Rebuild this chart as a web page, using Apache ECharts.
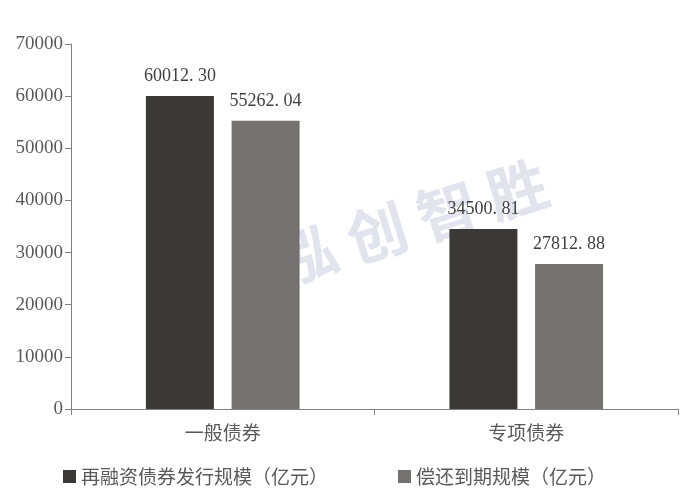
<!DOCTYPE html>
<html><head><meta charset="utf-8">
<script src="https://cdn.jsdelivr.net/npm/echarts@6/dist/echarts.min.js"></script>
<style>html,body{margin:0;padding:0;background:#fff}#c{width:680px;height:496px}</style>
</head><body><div id="c"></div>
<script>
const categories = ['一般债券', '专项债券'];
const seriesNames = ['再融资债券发行规模（亿元）', '偿还到期规模（亿元）'];
const refinanceValues = [60012.30, 34500.81];
const repayValues = [55262.04, 27812.88];
const yTicks = [0, 10000, 20000, 30000, 40000, 50000, 60000, 70000];

const serif = '"Liberation Serif","DejaVu Serif","Noto Sans CJK SC",serif';
const cjk = '"Noto Sans CJK SC",serif';
const chart = echarts.init(document.getElementById('c'));
chart.setOption({
  animation: false,
  backgroundColor: '#fff',
  grid: { left: 71, right: 2, top: 44, bottom: 87, containLabel: false },
  graphic: [{
    type: 'text', x: 412, y: 222, rotation: 0.3,
    style: { text: '泓 创 智 胜', font: 'bold 60px "Noto Sans CJK SC"', fill: 'rgba(190,196,214,0.45)', align: 'center', verticalAlign: 'middle' },
    z: 0
  }],
  legend: {
    bottom: 5, left: 58, itemWidth: 13, itemHeight: 13, itemGap: 70,
    icon: 'rect',
    textStyle: { fontSize: 19, color: '#595959', fontFamily: cjk },
    data: seriesNames
  },
  xAxis: {
    type: 'category', data: categories,
    axisLine: { lineStyle: { color: '#808080', width: 1 } },
    axisTick: { show: true, length: 6, lineStyle: { color: '#808080' } },
    axisLabel: { fontSize: 19, color: '#595959', margin: 14, fontFamily: cjk }
  },
  yAxis: {
    type: 'value', min: yTicks[0], max: yTicks[yTicks.length - 1], interval: 10000,
    axisLine: { show: true, lineStyle: { color: '#808080' } },
    axisTick: { show: true, length: 6, lineStyle: { color: '#808080' } },
    splitLine: { show: false },
    axisLabel: { fontSize: 19, color: '#595959', margin: 8, fontFamily: serif, formatter: v => String(v) }
  },
  series: [
    {
      name: seriesNames[0], type: 'bar', data: refinanceValues,
      barWidth: 68, barGap: '26%',
      itemStyle: { color: '#3b3838' },
      label: { show: true, position: 'top', distance: 11, fontSize: 18, color: '#404040', fontFamily: serif,
        formatter: p => p.value.toFixed(2).replace('.', '. ') }
    },
    {
      name: seriesNames[1], type: 'bar', data: repayValues,
      barWidth: 68,
      itemStyle: { color: '#767171' },
      label: { show: true, position: 'top', distance: 11, fontSize: 18, color: '#404040', fontFamily: serif,
        formatter: p => p.value.toFixed(2).replace('.', '. ') }
    }
  ]
});
</script></body></html>
